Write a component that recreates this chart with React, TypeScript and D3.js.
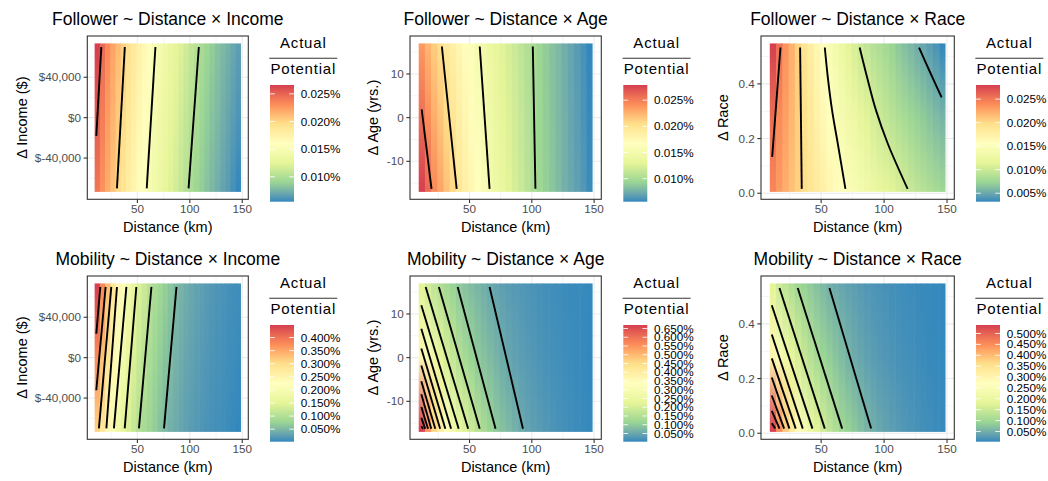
import * as d3 from 'd3';

// centres of the distance columns of the prediction grid (km)
const distanceKm = [11.7, 16.7, 21.7, 26.7, 31.6, 36.6, 41.6, 46.6, 51.6, 56.6, 61.6, 66.5, 71.5, 76.5, 81.5, 86.5, 91.5, 96.5, 101.4, 106.4, 111.4, 116.4, 121.4, 126.4, 131.4, 136.3, 141.3, 146.3];

const xTicks = [50, 100, 150];
const xMinor = [25, 75, 125];

const incomeRange: [number, number] = [-73500, 73500];
const incomeTicks = [-40000, 0, 40000];
const incomeMinor = [-60000, -20000, 20000, 60000];
const ageRange: [number, number] = [-17, 17];
const ageTicks = [-10, 0, 10];
const ageMinor = [-15, -5, 5, 15];
const raceRange: [number, number] = [0.005, 0.548];
const raceTicks = [0, 0.2, 0.4];
const raceMinor = [0.1, 0.3, 0.5];

const followerBreaks = [0.005, 0.01, 0.015, 0.02, 0.025];
const mobilityBreaks = [0.05, 0.1, 0.15, 0.2, 0.25, 0.3, 0.35, 0.4, 0.45, 0.5, 0.55, 0.6, 0.65];

// Actual / Potential (%), read per column at the top, middle and bottom of each raster
const followerIncomeTop = [0.0266, 0.0247, 0.0233, 0.0222, 0.0212, 0.0203, 0.0193, 0.0185, 0.0176, 0.0168, 0.0159, 0.0151, 0.0145, 0.0139, 0.0133, 0.0127, 0.0121, 0.0115, 0.0109, 0.0103, 0.0097, 0.0092, 0.0087, 0.0082, 0.0078, 0.0074, 0.007, 0.0066];
const followerIncomeMid = [0.0254, 0.0238, 0.0225, 0.0215, 0.0205, 0.0196, 0.0187, 0.0178, 0.017, 0.0162, 0.0153, 0.0146, 0.014, 0.0134, 0.0128, 0.0122, 0.0115, 0.0109, 0.0103, 0.0098, 0.0092, 0.0087, 0.0082, 0.0078, 0.0073, 0.0069, 0.0065, 0.0061];
const followerIncomeBottom = [0.0242, 0.0229, 0.0218, 0.0208, 0.0198, 0.0189, 0.018, 0.0172, 0.0163, 0.0155, 0.0147, 0.0141, 0.0135, 0.0128, 0.0122, 0.0116, 0.0109, 0.0103, 0.0097, 0.0092, 0.0087, 0.0082, 0.0077, 0.0073, 0.0068, 0.0064, 0.0059, 0.0055];

const followerAgeTop = [0.0236, 0.0224, 0.0213, 0.0203, 0.0194, 0.0186, 0.0178, 0.017, 0.0162, 0.0153, 0.0146, 0.014, 0.0134, 0.0128, 0.0122, 0.0117, 0.0111, 0.0105, 0.0099, 0.0094, 0.0089, 0.0084, 0.008, 0.0075, 0.0071, 0.0066, 0.0061, 0.0056];
const followerAgeMid = [0.0257, 0.0242, 0.0228, 0.0217, 0.0206, 0.0197, 0.0187, 0.0178, 0.017, 0.016, 0.0152, 0.0144, 0.0138, 0.0132, 0.0126, 0.012, 0.0114, 0.0107, 0.01, 0.0095, 0.009, 0.0085, 0.008, 0.0076, 0.0071, 0.0067, 0.0062, 0.0057];
const followerAgeBottom = [0.0279, 0.026, 0.0244, 0.0232, 0.0219, 0.0208, 0.0196, 0.0187, 0.0177, 0.0168, 0.0158, 0.0149, 0.0143, 0.0136, 0.0129, 0.0122, 0.0116, 0.0109, 0.0102, 0.0096, 0.0091, 0.0086, 0.0081, 0.0076, 0.0072, 0.0068, 0.0064, 0.0058];

const followerRaceTop = [0.028, 0.0256, 0.0236, 0.0221, 0.0205, 0.0191, 0.0179, 0.0166, 0.0153, 0.0143, 0.0134, 0.0125, 0.0116, 0.0107, 0.0099, 0.0094, 0.0088, 0.0083, 0.0078, 0.0073, 0.0067, 0.0062, 0.0057, 0.0052, 0.0048, 0.0043, 0.0038, 0.0032];
const followerRaceMid = [0.0256, 0.024, 0.023, 0.0218, 0.0206, 0.0195, 0.0185, 0.0175, 0.0165, 0.0155, 0.0147, 0.014, 0.0133, 0.0127, 0.012, 0.0113, 0.0106, 0.01, 0.0095, 0.009, 0.0085, 0.0081, 0.0076, 0.0072, 0.0068, 0.0064, 0.006, 0.0056];
const followerRaceBottom = [0.0242, 0.0232, 0.0222, 0.0213, 0.0205, 0.0197, 0.019, 0.0183, 0.0176, 0.0168, 0.0161, 0.0154, 0.0148, 0.0143, 0.0138, 0.0133, 0.0128, 0.0122, 0.0117, 0.0113, 0.0108, 0.0103, 0.0098, 0.0093, 0.0089, 0.0085, 0.0081, 0.0077];

const mobilityIncomeTop = [0.448, 0.379, 0.331, 0.285, 0.243, 0.216, 0.189, 0.163, 0.141, 0.124, 0.106, 0.093, 0.083, 0.072, 0.062, 0.052, 0.045, 0.039, 0.034, 0.029, 0.025, 0.021, 0.018, 0.015, 0.013, 0.011, 0.009, 0.008];
const mobilityIncomeMid = [0.375, 0.328, 0.285, 0.245, 0.211, 0.186, 0.162, 0.14, 0.12, 0.106, 0.092, 0.081, 0.07, 0.06, 0.052, 0.044, 0.038, 0.032, 0.028, 0.024, 0.02, 0.017, 0.014, 0.012, 0.01, 0.008, 0.007, 0.005];
const mobilityIncomeBottom = [0.31, 0.276, 0.241, 0.206, 0.18, 0.156, 0.136, 0.118, 0.1, 0.089, 0.079, 0.069, 0.058, 0.049, 0.042, 0.036, 0.031, 0.026, 0.022, 0.019, 0.016, 0.013, 0.011, 0.009, 0.008, 0.006, 0.004, 0.002];

const mobilityAgeTop = [0.22, 0.191, 0.167, 0.146, 0.129, 0.113, 0.098, 0.088, 0.078, 0.069, 0.059, 0.05, 0.044, 0.038, 0.033, 0.029, 0.025, 0.022, 0.019, 0.016, 0.014, 0.012, 0.011, 0.009, 0.008, 0.007, 0.006, 0.005];
const mobilityAgeMid = [0.365, 0.316, 0.272, 0.233, 0.2, 0.176, 0.15, 0.132, 0.114, 0.098, 0.087, 0.077, 0.066, 0.056, 0.048, 0.041, 0.035, 0.03, 0.026, 0.022, 0.018, 0.015, 0.013, 0.011, 0.009, 0.007, 0.005, 0.003];
const mobilityAgeBottom = [0.67, 0.55, 0.462, 0.396, 0.338, 0.288, 0.248, 0.215, 0.186, 0.159, 0.137, 0.117, 0.099, 0.087, 0.076, 0.065, 0.053, 0.045, 0.038, 0.032, 0.027, 0.022, 0.018, 0.015, 0.012, 0.009, 0.007, 0.005];

const mobilityRaceTop = [0.18, 0.151, 0.133, 0.116, 0.099, 0.09, 0.08, 0.07, 0.06, 0.05, 0.044, 0.038, 0.033, 0.029, 0.025, 0.021, 0.018, 0.016, 0.014, 0.012, 0.01, 0.009, 0.008, 0.007, 0.006, 0.005, 0.004, 0.003];
const mobilityRaceMid = [0.296, 0.252, 0.219, 0.19, 0.165, 0.143, 0.126, 0.109, 0.095, 0.085, 0.074, 0.064, 0.053, 0.045, 0.039, 0.033, 0.028, 0.024, 0.021, 0.018, 0.015, 0.013, 0.011, 0.009, 0.008, 0.006, 0.005, 0.004];
const mobilityRaceBottom = [0.539, 0.453, 0.387, 0.331, 0.283, 0.242, 0.21, 0.182, 0.157, 0.137, 0.119, 0.1, 0.09, 0.079, 0.068, 0.057, 0.048, 0.041, 0.035, 0.03, 0.025, 0.021, 0.018, 0.015, 0.012, 0.01, 0.008, 0.006];

type Pt = [number, number];
type Contour = { level: number; points: Pt[] };

// contour lines, [distance, y] points
const followerIncomeContours: Contour[] = [
  { level: 0.025, points: [[15.6, 70000], [10.8, -18000]] },
  { level: 0.02, points: [[38, 70000], [30.5, -70000]] },
  { level: 0.015, points: [[67.2, 70000], [58.9, -70000]] },
  { level: 0.01, points: [[108.6, 70000], [98.8, -70000]] },
];
const followerAgeContours: Contour[] = [
  { level: 0.025, points: [[11.6, 1.9], [19.5, -16.3]] },
  { level: 0.02, points: [[27.8, 16.3], [39.7, -16.3]] },
  { level: 0.015, points: [[58.2, 16.3], [66.1, -16.3]] },
  { level: 0.01, points: [[100.8, 16.3], [102.9, -16.3]] },
];
const followerRaceContours: Contour[] = [
  { level: 0.025, points: [[17.7, 0.533], [11.1, 0.133]] },
  { level: 0.02, points: [[33.3, 0.533], [34.6, 0.016]] },
  { level: 0.015, points: [[52.9, 0.533], [55.3, 0.424], [58.7, 0.303], [63.2, 0.182], [69.3, 0.016]] },
  { level: 0.01, points: [[80.6, 0.533], [86.5, 0.424], [93.6, 0.303], [102.9, 0.182], [118.7, 0.016]] },
  { level: 0.005, points: [[127.8, 0.533], [136, 0.448], [145.7, 0.351]] },
];
const mobilityIncomeContours: Contour[] = [
  { level: 0.4, points: [[14.6, 70000], [10.8, 23700]] },
  { level: 0.35, points: [[19.7, 70000], [10.8, -32300]] },
  { level: 0.3, points: [[25.1, 70000], [13.3, -70000]] },
  { level: 0.25, points: [[30.5, 70000], [20.4, -70000]] },
  { level: 0.2, points: [[39.5, 70000], [27.6, -70000]] },
  { level: 0.15, points: [[49, 70000], [37.9, -70000]] },
  { level: 0.1, points: [[63.4, 70000], [51.5, -70000]] },
  { level: 0.05, points: [[87.3, 70000], [75.4, -70000]] },
];
const mobilityAgeContours: Contour[] = [
  { level: 0.05, points: [[66.1, 16.2], [92.9, -16.3]] },
  { level: 0.1, points: [[40.5, 16.2], [70.9, -16.3]] },
  { level: 0.15, points: [[25.4, 16.2], [58.2, -16.3]] },
  { level: 0.2, points: [[14.8, 16.2], [48.9, -16.3]] },
  { level: 0.25, points: [[11.3, 12], [41.3, -16.3]] },
  { level: 0.3, points: [[11.3, 6.6], [35.2, -16.3]] },
  { level: 0.35, points: [[11.3, 2.1], [30.6, -16.3]] },
  { level: 0.4, points: [[11.3, -1.8], [26.4, -16.3]] },
  { level: 0.45, points: [[11.3, -5.4], [22.5, -16.3]] },
  { level: 0.5, points: [[11.3, -8.4], [19.3, -16.3]] },
  { level: 0.55, points: [[11.3, -11.3], [16.7, -16.3]] },
  { level: 0.6, points: [[11.3, -13.8], [14.5, -16.3]] },
  { level: 0.65, points: [[11.3, -15.7], [12.7, -16.3]] },
];
const mobilityRaceContours: Contour[] = [
  { level: 0.05, points: [[56.6, 0.531], [89.7, 0.017]] },
  { level: 0.1, points: [[31.4, 0.531], [66.7, 0.017]] },
  { level: 0.15, points: [[16.9, 0.531], [52.9, 0.017]] },
  { level: 0.2, points: [[10.8, 0.468], [43.1, 0.017]] },
  { level: 0.25, points: [[10.8, 0.361], [35.4, 0.017]] },
  { level: 0.3, points: [[10.8, 0.274], [29.8, 0.017]] },
  { level: 0.35, points: [[10.8, 0.204], [24.8, 0.017]] },
  { level: 0.4, points: [[10.8, 0.138], [20.6, 0.017]] },
  { level: 0.45, points: [[10.8, 0.082], [16.9, 0.017]] },
  { level: 0.5, points: [[10.8, 0.037], [13.5, 0.017]] },
];

const palette = ['#3288BD', '#99D594', '#E6F598', '#FFFFBF', '#FEE08B', '#FC8D59', '#D53E4F'];
const FONT = '"Liberation Sans", Arial, Helvetica, sans-serif';

const fmtThousands = d3.format(',');
const fmtIncome = (v: number) => (v < 0 ? '$-' + fmtThousands(-v) : '$' + fmtThousands(v));
const fmtAge = (v: number) => String(v);
const fmtRace = (v: number) => v.toFixed(1);
const fmtPct = (v: number) => d3.format('.3f')(v) + '%';

// layout of the 3 x 2 grid of plots
const cols = [
  { x0: 87.3, x1: 248.3, yTitleX: 27.3, barX: 270 },
  { x0: 410, x1: 601.3, yTitleX: 378, barX: 623.3 },
  { x0: 761, x1: 954.3, yTitleX: 728.3, barX: 976 },
];
const rowTops = [36, 276];
const panelH = 163.3;

type Spec = {
  title: string; yTitle: string; yRange: [number, number]; yTicks: number[]; yMinor: number[];
  yFmt: (v: number) => string; top: number[]; mid: number[]; bottom: number[];
  contours: Contour[]; breaks: number[]; col: number; row: number;
};

const specs: Spec[] = [
  { title: 'Follower ~ Distance × Income', yTitle: 'Δ Income ($)', yRange: incomeRange, yTicks: incomeTicks, yMinor: incomeMinor, yFmt: fmtIncome, top: followerIncomeTop, mid: followerIncomeMid, bottom: followerIncomeBottom, contours: followerIncomeContours, breaks: followerBreaks, col: 0, row: 0 },
  { title: 'Follower ~ Distance × Age', yTitle: 'Δ Age (yrs.)', yRange: ageRange, yTicks: ageTicks, yMinor: ageMinor, yFmt: fmtAge, top: followerAgeTop, mid: followerAgeMid, bottom: followerAgeBottom, contours: followerAgeContours, breaks: followerBreaks, col: 1, row: 0 },
  { title: 'Follower ~ Distance × Race', yTitle: 'Δ Race', yRange: raceRange, yTicks: raceTicks, yMinor: raceMinor, yFmt: fmtRace, top: followerRaceTop, mid: followerRaceMid, bottom: followerRaceBottom, contours: followerRaceContours, breaks: followerBreaks, col: 2, row: 0 },
  { title: 'Mobility ~ Distance × Income', yTitle: 'Δ Income ($)', yRange: incomeRange, yTicks: incomeTicks, yMinor: incomeMinor, yFmt: fmtIncome, top: mobilityIncomeTop, mid: mobilityIncomeMid, bottom: mobilityIncomeBottom, contours: mobilityIncomeContours, breaks: mobilityBreaks, col: 0, row: 1 },
  { title: 'Mobility ~ Distance × Age', yTitle: 'Δ Age (yrs.)', yRange: ageRange, yTicks: ageTicks, yMinor: ageMinor, yFmt: fmtAge, top: mobilityAgeTop, mid: mobilityAgeMid, bottom: mobilityAgeBottom, contours: mobilityAgeContours, breaks: mobilityBreaks, col: 1, row: 1 },
  { title: 'Mobility ~ Distance × Race', yTitle: 'Δ Race', yRange: raceRange, yTicks: raceTicks, yMinor: raceMinor, yFmt: fmtRace, top: mobilityRaceTop, mid: mobilityRaceMid, bottom: mobilityRaceBottom, contours: mobilityRaceContours, breaks: mobilityBreaks, col: 2, row: 1 },
];

const expand = ([a, b]: [number, number]): [number, number] => [a - (b - a) * 0.05, b + (b - a) * 0.05];

// tile edges around the column centres
const n = distanceKm.length;
const edges = d3.range(n + 1).map((i) => {
  if (i === 0) return distanceKm[0] - (distanceKm[1] - distanceKm[0]) / 2;
  if (i === n) return distanceKm[n - 1] + (distanceKm[n - 1] - distanceKm[n - 2]) / 2;
  return (distanceKm[i - 1] + distanceKm[i]) / 2;
});

function Plot({ p, pi }: { p: Spec; pi: number }) {
  const c = cols[p.col];
  const y0 = rowTops[p.row];
  const y1 = y0 + panelH;
  const x = d3.scaleLinear().domain(expand([edges[0], edges[n]])).range([c.x0, c.x1]);
  const y = d3.scaleLinear().domain(expand(p.yRange)).range([y1, y0]);

  const [vmin, vmax] = d3.extent([...p.top, ...p.mid, ...p.bottom]) as [number, number];
  const color = d3.scaleLinear<string>()
    .domain(palette.map((_, i) => vmin + (i * (vmax - vmin)) / (palette.length - 1)))
    .range(palette)
    .interpolate(d3.interpolateLab);

  const line = d3.line<Pt>().x((d) => x(d[0])).y((d) => y(d[1])).curve(d3.curveCatmullRom);

  const barW = 24;
  const barTop = y0 + 49;
  const barBottom = y0 + 165.7;
  const barY = d3.scaleLinear().domain([vmin, vmax]).range([barBottom, barTop]);
  const breaks = p.breaks.filter((b) => b >= vmin && b <= vmax);
  const cx = (c.x0 + c.x1) / 2;
  const legendX = c.barX + 33.3;

  return (
    <g>
      <defs>
        {distanceKm.map((_, i) => (
          <linearGradient key={i} id={`col-${pi}-${i}`} x1="0" y1="1" x2="0" y2="0">
            <stop offset="0" stopColor={color(p.bottom[i])} />
            <stop offset="0.5" stopColor={color(p.mid[i])} />
            <stop offset="1" stopColor={color(p.top[i])} />
          </linearGradient>
        ))}
        <linearGradient id={`bar-${pi}`} x1="0" y1="1" x2="0" y2="0">
          {d3.range(25).map((k) => (
            <stop key={k} offset={k / 24} stopColor={color(vmin + (k / 24) * (vmax - vmin))} />
          ))}
        </linearGradient>
      </defs>

      {/* grid */}
      {xMinor.map((t) => (
        <line key={`xm${t}`} x1={x(t)} x2={x(t)} y1={y0} y2={y1} stroke="#EBEBEB" strokeWidth={0.55} />
      ))}
      {p.yMinor.map((t) => (
        <line key={`ym${t}`} x1={c.x0} x2={c.x1} y1={y(t)} y2={y(t)} stroke="#EBEBEB" strokeWidth={0.55} />
      ))}
      {xTicks.map((t) => (
        <line key={`xg${t}`} x1={x(t)} x2={x(t)} y1={y0} y2={y1} stroke="#EBEBEB" strokeWidth={1.1} />
      ))}
      {p.yTicks.map((t) => (
        <line key={`yg${t}`} x1={c.x0} x2={c.x1} y1={y(t)} y2={y(t)} stroke="#EBEBEB" strokeWidth={1.1} />
      ))}

      {/* raster */}
      {distanceKm.map((_, i) => {
        const left = x(edges[i]);
        const right = x(edges[i + 1]);
        return (
          <rect
            key={i}
            x={left}
            y={y(p.yRange[1])}
            width={right - left + (i < n - 1 ? 0.6 : 0)}
            height={y(p.yRange[0]) - y(p.yRange[1])}
            fill={`url(#col-${pi}-${i})`}
          />
        );
      })}

      {/* contours */}
      {p.contours.map((ct) => (
        <path key={ct.level} d={line(ct.points) ?? ''} fill="none" stroke="#000" strokeWidth={1.9} />
      ))}

      <rect x={c.x0} y={y0} width={c.x1 - c.x0} height={panelH} fill="none" stroke="#333333" strokeWidth={1.1} />

      {/* x axis */}
      {xTicks.map((t) => (
        <g key={`xt${t}`}>
          <line x1={x(t)} x2={x(t)} y1={y1} y2={y1 + 3.7} stroke="#333333" strokeWidth={1.1} />
          <text x={x(t)} y={y1 + 14} textAnchor="middle" fontSize={11.7} fill="#4D4D4D">{t}</text>
        </g>
      ))}
      <text x={cx} y={y1 + 32.7} textAnchor="middle" fontSize={14.5} fill="#000">Distance (km)</text>

      {/* y axis */}
      {p.yTicks.map((t) => (
        <g key={`yt${t}`}>
          <line x1={c.x0 - 3.7} x2={c.x0} y1={y(t)} y2={y(t)} stroke="#333333" strokeWidth={1.1} />
          <text x={c.x0 - 6.3} y={y(t)} dy="0.35em" textAnchor="end" fontSize={11.7} fill="#4D4D4D">{p.yFmt(t)}</text>
        </g>
      ))}
      <text transform={`translate(${c.yTitleX},${(y0 + y1) / 2}) rotate(-90)`} textAnchor="middle" fontSize={14.5} fill="#000">
        {p.yTitle}
      </text>

      <text x={cx} y={y0 - 11} textAnchor="middle" fontSize={17.5} fill="#000">{p.title}</text>

      {/* legend */}
      <text x={legendX} y={y0 + 12.3} textAnchor="middle" fontSize={15} letterSpacing={0.8} fill="#000">Actual</text>
      <line x1={c.barX - 0.7} x2={c.barX + 67.3} y1={y0 + 22.3} y2={y0 + 22.3} stroke="#333333" strokeWidth={1.1} />
      <text x={legendX} y={y0 + 38} textAnchor="middle" fontSize={15} letterSpacing={0.8} fill="#000">Potential</text>
      <rect x={c.barX} y={barTop} width={barW} height={barBottom - barTop} fill={`url(#bar-${pi})`} />
      {breaks.map((b) => (
        <g key={`lb${b}`}>
          <line x1={c.barX} x2={c.barX + barW / 5} y1={barY(b)} y2={barY(b)} stroke="#fff" strokeWidth={1} opacity={0.85} />
          <line x1={c.barX + barW * 0.8} x2={c.barX + barW} y1={barY(b)} y2={barY(b)} stroke="#fff" strokeWidth={1} opacity={0.85} />
          <text x={c.barX + barW + 6.7} y={barY(b)} dy="0.35em" fontSize={11.7} fill="#000">{fmtPct(b)}</text>
        </g>
      ))}
    </g>
  );
}

export default function App() {
  return (
    <svg
      width={1048}
      height={481}
      style={{ position: 'absolute', left: 0, top: 0, background: '#fff', fontFamily: FONT }}
    >
      <rect width={1048} height={481} fill="#fff" />
      {specs.map((p, i) => (
        <Plot key={i} p={p} pi={i} />
      ))}
    </svg>
  );
}
